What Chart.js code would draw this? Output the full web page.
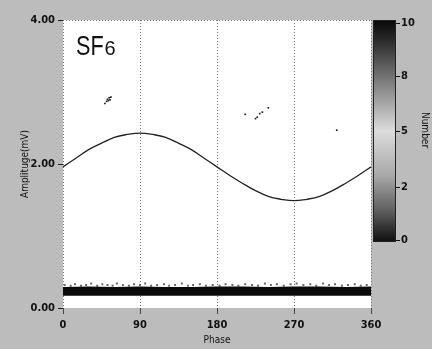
<!DOCTYPE html>
<html>
<head>
<meta charset="utf-8">
<script src="https://cdn.jsdelivr.net/npm/chart.js@4.4.1/dist/chart.umd.min.js"></script>
<style>
html, body { margin: 0; padding: 0; background: #bcbcbc; }
canvas { display: block; }
</style>
</head>
<body>
<canvas id="pd-chart" width="432" height="349"></canvas>
<script>
let x_ticks = [0, 90, 180, 270, 360];
let y_ticks = [0, 2, 4];

// main trace (amplitude vs phase), read every 15 deg
let trace_phase = [0, 15, 30, 45, 60, 75, 90, 105, 120, 135, 150, 165, 180, 195, 210, 225, 240, 255, 270, 285, 300, 315, 330, 345, 360];
let trace_amp = [1.96, 2.08, 2.20, 2.29, 2.37, 2.41, 2.43, 2.41, 2.37, 2.29, 2.20, 2.08, 1.96, 1.84, 1.73, 1.63, 1.55, 1.51, 1.49, 1.51, 1.55, 1.63, 1.73, 1.84, 1.96];

// black noise band at the bottom
let band_phase = [0, 30, 60, 90, 120, 150, 180, 210, 240, 270, 300, 330, 360];
let band_low = [0.17, 0.17, 0.17, 0.17, 0.17, 0.17, 0.17, 0.17, 0.17, 0.17, 0.17, 0.17, 0.17];
let band_high = [0.29, 0.30, 0.29, 0.30, 0.29, 0.29, 0.30, 0.30, 0.29, 0.30, 0.30, 0.29, 0.30];

// speckles on top of the band
let speck_phase = [2, 9, 14, 21, 27, 33, 40, 46, 52, 58,
    63, 70, 77, 83, 90, 96, 103, 110, 118, 124,
    131, 139, 146, 152, 160, 167, 175, 183, 190, 198,
    205, 213, 221, 228, 236, 243, 250, 258, 266, 273,
    281, 289, 296, 304, 311, 318, 326, 333, 341, 348, 355];
let speck_amp = [0.32, 0.31, 0.33, 0.31, 0.32, 0.34, 0.31, 0.33, 0.32, 0.31,
    0.34, 0.32, 0.31, 0.33, 0.32, 0.34, 0.31, 0.32, 0.33, 0.31,
    0.32, 0.34, 0.31, 0.32, 0.33, 0.31, 0.32, 0.31, 0.33, 0.32,
    0.31, 0.33, 0.32, 0.31, 0.34, 0.32, 0.33, 0.31, 0.33, 0.34,
    0.32, 0.33, 0.31, 0.34, 0.32, 0.33, 0.31, 0.32, 0.33, 0.31, 0.32];

// isolated clusters
let cluster_phase = [49, 51, 52, 53, 54, 55, 56, 213, 225, 227, 230, 233, 240, 320];
let cluster_amp = [2.84, 2.87, 2.90, 2.88, 2.92, 2.89, 2.93, 2.69, 2.63, 2.65, 2.70, 2.72, 2.78, 2.47];

// colour bar
let bar_values = [0, 2.5, 5, 7.5, 10];
let bar_labels = ['0', '2', '5', '8', '10'];
let bar_max = 10;

const narrow = "'Liberation Sans Narrow', 'DejaVu Sans Condensed', sans-serif";

function pts(xs, ys) {
    return xs.map((x, i) => ({ x: x, y: ys[i] }));
}

const frame_plugin = {
    id: 'frame',
    beforeDraw(chart) {
        let ctx = chart.ctx;
        let a = chart.chartArea;
        ctx.save();
        ctx.fillStyle = '#bcbcbc';
        ctx.fillRect(0, 0, chart.width, chart.height);
        ctx.fillStyle = '#ffffff';
        ctx.fillRect(a.left, a.top, a.right - a.left, a.bottom - a.top);
        ctx.restore();
    },
    beforeDatasetsDraw(chart) {
        let ctx = chart.ctx;
        let a = chart.chartArea;
        let xs = chart.scales.x;
        ctx.save();
        ctx.strokeStyle = '#777';
        ctx.lineWidth = 1;
        ctx.setLineDash([1, 2]);
        x_ticks.forEach(v => {
            let px = Math.round(xs.getPixelForValue(v)) + 0.5;
            ctx.beginPath();
            ctx.moveTo(px, a.top);
            ctx.lineTo(px, a.bottom);
            ctx.stroke();
        });
        ctx.beginPath();
        ctx.moveTo(a.left, a.top + 0.5);
        ctx.lineTo(a.right, a.top + 0.5);
        ctx.stroke();
        ctx.restore();
    },
    afterDraw(chart) {
        let ctx = chart.ctx;
        let a = chart.chartArea;
        ctx.save();
        // label inside plot
        ctx.fillStyle = '#111';
        ctx.textBaseline = 'alphabetic';
        ctx.textAlign = 'left';
        ctx.save();
        ctx.translate(a.left + 13, 55);
        ctx.scale(0.8, 1);
        ctx.font = "27px 'Liberation Sans', Arial, sans-serif";
        ctx.fillText('SF', 0, 0);
        let w = ctx.measureText('SF').width * 0.8;
        ctx.restore();
        ctx.font = "20px 'Liberation Sans', Arial, sans-serif";
        ctx.fillText('6', a.left + 13 + w + 1, 55);

        // colour bar
        let bx = a.right + 2, bw = 23, by = a.top, bh = Math.round((a.bottom - a.top) * 0.77);
        let g = ctx.createLinearGradient(0, by, 0, by + bh);
        g.addColorStop(0, '#080808');
        g.addColorStop(0.08, '#262626');
        g.addColorStop(0.25, '#707070');
        g.addColorStop(0.5, '#dcdcdc');
        g.addColorStop(0.7, '#a8a8a8');
        g.addColorStop(0.86, '#5e5e5e');
        g.addColorStop(0.95, '#2a2a2a');
        g.addColorStop(1, '#101010');
        ctx.fillStyle = g;
        ctx.fillRect(bx, by, bw, bh);
        ctx.strokeStyle = '#222';
        ctx.lineWidth = 1;
        ctx.strokeRect(bx + 0.5, by + 0.5, bw - 1, bh - 1);

        ctx.font = 'bold 11px ' + narrow;
        ctx.textBaseline = 'middle';
        ctx.fillStyle = '#111';
        bar_values.forEach((v, i) => {
            let py = Math.round(by + bh - v / bar_max * bh);
            if (i == 0) py -= 2;
            if (i == bar_values.length - 1) py += 3;
            ctx.fillRect(bx + bw, py, 4, 1);
            ctx.fillText(bar_labels[i], bx + bw + 5, py);
        });

        ctx.translate(425, 130);
        ctx.rotate(Math.PI / 2);
        ctx.textAlign = 'center';
        ctx.font = '10px ' + narrow;
        ctx.fillText('Number', 0, 0);
        ctx.restore();
    }
};

let ctx = document.getElementById('pd-chart');
let chart = new Chart(ctx, {
    type: 'line',
    data: {
        datasets: [
            {
                data: pts(band_phase, band_low),
                borderWidth: 0,
                borderColor: '#0a0a0a',
                pointRadius: 0,
                fill: false,
            },
            {
                data: pts(band_phase, band_high),
                borderWidth: 0,
                borderColor: '#0a0a0a',
                backgroundColor: '#0a0a0a',
                pointRadius: 0,
                fill: '-1',
            },
            {
                data: pts(speck_phase, speck_amp),
                showLine: false,
                pointRadius: 1.4,
                pointStyle: 'rect',
                pointBorderWidth: 0,
                pointBackgroundColor: '#666',
            },
            {
                data: pts(cluster_phase, cluster_amp),
                showLine: false,
                pointRadius: 1.2,
                pointStyle: 'rect',
                pointBorderWidth: 0,
                pointBackgroundColor: '#222',
            },
            {
                data: pts(trace_phase, trace_amp),
                borderColor: '#222',
                borderWidth: 1.3,
                pointRadius: 0,
                tension: 0.4,
                fill: false,
            }
        ],
    },
    options: {
        responsive: false,
        animation: false,
        layout: { padding: { top: 20, right: 61, left: 0, bottom: 0 } },
        scales: {
            x: {
                type: 'linear',
                min: 0,
                max: 360,
                afterBuildTicks: s => { s.ticks = x_ticks.map(v => ({ value: v })); },
                afterFit: s => { s.height = 41; },
                grid: { drawOnChartArea: false, drawTicks: true, tickLength: 6, tickColor: '#444' },
                border: { display: false },
                ticks: {
                    padding: 5,
                    color: '#111',
                    maxRotation: 0,
                    font: { family: narrow, size: 11, weight: 'bold' },
                    callback: v => String(v),
                },
                title: {
                    display: true,
                    text: 'Phase',
                    color: '#111',
                    font: { family: narrow, size: 10 },
                    padding: { top: 0, bottom: 3 },
                },
            },
            y: {
                min: 0,
                max: 4,
                afterBuildTicks: s => { s.ticks = y_ticks.map(v => ({ value: v })); },
                afterFit: s => { s.width = 63; },
                grid: { drawOnChartArea: false, drawTicks: true, tickLength: 5, tickColor: '#222' },
                border: { display: false },
                ticks: {
                    padding: 3,
                    color: '#111',
                    font: { family: narrow, size: 11, weight: 'bold' },
                    callback: v => Number(v).toFixed(2),
                },
                title: {
                    display: true,
                    text: 'Amplituge(mV)',
                    color: '#111',
                    font: { family: narrow, size: 10 },
                    padding: { top: 19, bottom: 0 },
                },
            },
        },
        plugins: {
            legend: { display: false },
            tooltip: { enabled: false },
        },
    },
    plugins: [frame_plugin],
});
</script>
</body>
</html>
